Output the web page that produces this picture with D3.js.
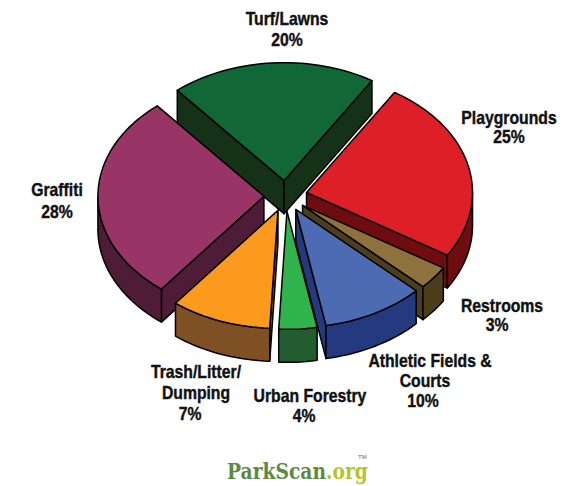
<!DOCTYPE html>
<html>
<head>
<meta charset="utf-8">
<script src="https://cdn.jsdelivr.net/npm/d3@7"></script>
<style>
  html, body { margin: 0; padding: 0; background: #fff; }
  svg { display: block; }
  .lbl { font-family: "Liberation Sans", sans-serif; font-weight: 700; font-size: 17.5px; fill: #111; stroke: #111; stroke-width: 0.4px; text-anchor: middle; }
</style>
</head>
<body>
<div id="chart"></div>
<script>
// clockwise from the turf wedge
const categories = ["Turf/Lawns", "Playgrounds", "Restrooms", "Athletic Fields & Courts", "Urban Forestry", "Trash/Litter/Dumping", "Graffiti"];
// wedge sizes as drawn (the trash wedge is wider than its printed 7%)
const values = [20, 25, 3.2, 10, 3.7, 9.8, 28.3];
const percentLabels = ["20%", "25%", "3%", "10%", "4%", "7%", "28%"];
const topColors = ["#116735", "#dd2027", "#8e723c", "#4d6bb3", "#2fb34d", "#fb9a1c", "#993566"];
const sideColors = ["#153218", "#6e0c10", "#4c3d1c", "#25397f", "#235c2f", "#7f5023", "#4e1c36"];

// label lines, one row per category, and where each block goes
const labelLines = [["Turf/Lawns", "20%"], ["Playgrounds", "25%"], ["Restrooms", "3%"], ["Athletic Fields &", "Courts", "10%"], ["Urban Forestry", "4%"], ["Trash/Litter/", "Dumping", "7%"], ["Graffiti", "28%"]];
const labelX = [287, 509, 502, 430, 310, 196, 57];
const labelY = [25, 124, 312, 367, 402, 378, 196];
const labelStep = [21, 19, 19, 20, 20, 21, 22];
const labelShift = [[0, 0], [0, 0], [0, -5], [0, -5, -7], [0, -6], [0, 0, -6], [0, 0]];

const width = 588, height = 486;
const cx = 285.5, cy = 196, rx = 166, ry = 118, depth = 33, explode = 0.13;

const x = d3.scaleLinear().domain([-1, 1]).range([cx - rx, cx + rx]);
const y = d3.scaleLinear().domain([-1, 1]).range([cy - ry, cy + ry]);

const svg = d3.select("#chart").append("svg").attr("width", width).attr("height", height);

const rad = d => d * Math.PI / 180;
const pie = d3.pie().sort(null).startAngle(rad(-40)).endAngle(rad(320));
const arcs = pie(values).map((d, i) => ({ ...d, i, mid: (d.startAngle + d.endAngle) / 2 }));

// point on a wedge: t is the fraction of the radius, a the angle (0 = up, clockwise)
function pt(d, t, a, drop) {
  const u = t * Math.sin(a) + explode * Math.sin(d.mid);
  const v = -t * Math.cos(a) - explode * Math.cos(d.mid);
  return [x(u), y(v) + (drop || 0)];
}
const line = d3.line();

function angles(a0, a1) {
  const n = Math.max(2, Math.ceil((a1 - a0) / rad(2)));
  return d3.range(n + 1).map(k => a0 + (a1 - a0) * k / n);
}

// back to front
const order = arcs.slice().sort((a, b) => -Math.cos(a.mid) + Math.cos(b.mid));

const g = svg.selectAll("g.slice").data(order).enter().append("g").attr("class", "slice")
  .attr("stroke", "#000").attr("stroke-width", 1.5).attr("stroke-linejoin", "round");

g.each(function (d) {
  const s = d3.select(this);
  const side = sideColors[d.i];
  const wall = (a) => [pt(d, 0, a), pt(d, 1, a), pt(d, 1, a, depth), pt(d, 0, a, depth)];

  // only walls that face the viewer
  if (Math.sin(d.startAngle) < 0) s.append("path").attr("d", line(wall(d.startAngle)) + "Z").attr("fill", side);
  if (Math.sin(d.endAngle) > 0) s.append("path").attr("d", line(wall(d.endAngle)) + "Z").attr("fill", side);

  // rim wall, front half of the ellipse only
  const turns = [Math.PI / 2, 3 * Math.PI / 2];
  [0, -2 * Math.PI].forEach(shift => {
    const a0 = Math.max(d.startAngle, turns[0] + shift), a1 = Math.min(d.endAngle, turns[1] + shift);
    if (a1 > a0) {
      const as = angles(a0, a1);
      const pts = as.map(a => pt(d, 1, a)).concat(as.slice().reverse().map(a => pt(d, 1, a, depth)));
      s.append("path").attr("d", line(pts) + "Z").attr("fill", side);
    }
  });

  const top = [pt(d, 0, d.startAngle)].concat(angles(d.startAngle, d.endAngle).map(a => pt(d, 1, a)));
  s.append("path").attr("d", line(top) + "Z").attr("fill", topColors[d.i]);
});

// the reference type is condensed, so each row is squeezed horizontally
labelLines.forEach((rows, i) => {
  rows.forEach((r, k) => {
    svg.append("text").attr("class", "lbl")
      .attr("transform", `translate(${labelX[i] + labelShift[i][k]},${labelY[i] + k * labelStep[i]}) scale(0.9,1)`)
      .text(r);
  });
});

// logo, squeezed to the width it has in the reference
const logo = svg.append("text")
  .attr("font-family", "'DejaVu Serif', serif").attr("font-weight", 700).attr("font-size", 22);
logo.append("tspan").attr("fill", "#5c8a3e").text("ParkScan");
logo.append("tspan").attr("fill", "#b5c42c").text(".org");
logo.attr("transform", `translate(227,479) scale(${141 / logo.node().getComputedTextLength()},1)`);
svg.append("text").attr("x", 358).attr("y", 459).attr("font-family", "'Liberation Sans', sans-serif")
  .attr("font-size", 6).attr("font-weight", 700).attr("fill", "#999").text("TM");
</script>
</body>
</html>
